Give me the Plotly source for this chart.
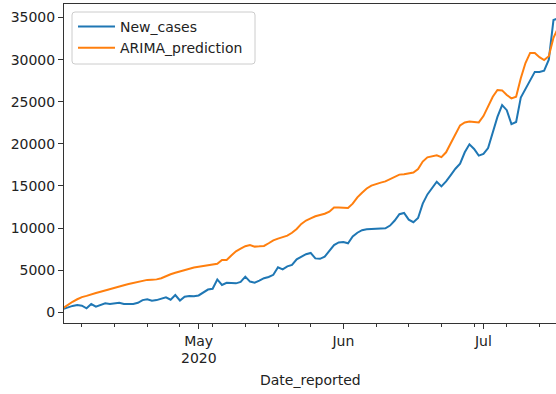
import pandas as pd
import plotly.graph_objects as go

# Daily reported cases and the ARIMA model prediction
dates = pd.date_range("2020-04-02", "2020-07-17", freq="D")

new_cases = [
    400, 600, 760, 860, 780, 480, 980, 680, 850, 1070,
    1000, 1050, 1140, 1000, 980, 1000, 1130, 1450, 1550, 1380,
    1450, 1600, 1780, 1500, 2050, 1400, 1850, 1940, 1900, 2000,
    2350, 2700, 2800, 3900, 3250, 3500, 3480, 3440, 3600, 4230,
    3650, 3520, 3750, 4050, 4200, 4450, 5340, 5100, 5450, 5620,
    6300, 6650, 6900, 7050, 6400, 6350, 6600, 7300, 7990, 8300,
    8350, 8200, 9000, 9450, 9750, 9850, 9880, 9950, 9970, 9970,
    10300, 10900, 11650, 11800, 11000, 10700, 11200, 12900, 14000, 14800,
    15500, 14950, 15550, 16300, 17050, 17650, 19000, 19950, 19400, 18600,
    18800, 19500, 21300, 23200, 24600, 24000, 22350, 22600, 25500, 26500,
    27500, 28550, 28550, 28700, 30000, 34700, 34900,
]

arima_prediction = [
    500, 900, 1250, 1550, 1800, 1950, 2150, 2300, 2450, 2620,
    2780, 2920, 3080, 3220, 3350, 3480, 3620, 3780, 3850, 3880,
    3910, 4050, 4300, 4520, 4700, 4850, 4980, 5200, 5320, 5400,
    5500, 5600, 5680, 5760, 6200, 6220, 6750, 7250, 7550, 7850,
    7980, 7800, 7830, 7880, 8200, 8550, 8750, 8880, 9100, 9450,
    9900, 10500, 10900, 11150, 11400, 11550, 11700, 11950, 12450, 12450,
    12400, 12380, 12900, 13650, 14200, 14700, 15050, 15250, 15400, 15550,
    15850, 16150, 16350, 16400, 16480, 16600, 17000, 17900, 18400, 18560,
    18650, 18420, 19000, 20070, 21200, 22200, 22550, 22650, 22600, 22550,
    23300, 24500, 25600, 26400, 26350, 25800, 25400, 25600, 27800, 29600,
    30800, 30800, 30300, 29950, 30400, 32600, 33800,
]

y_ticks = [0, 5000, 10000, 15000, 20000, 25000, 30000, 35000]
x_tick_dates = ["2020-05-01", "2020-06-01", "2020-07-01"]
x_tick_labels = ["May", "Jun", "Jul"]
year_label = "2020"

BLUE = "#1f77b4"
ORANGE = "#ff7f0e"
AXIS = "#333333"
TEXT = "#222222"
FONT = "DejaVu Sans"

fig = go.Figure()
fig.add_trace(go.Scatter(x=dates, y=new_cases, mode="lines", name="New_cases",
                         line=dict(color=BLUE, width=2)))
fig.add_trace(go.Scatter(x=dates, y=arima_prediction, mode="lines", name="ARIMA_prediction",
                         line=dict(color=ORANGE, width=2)))

W, H = 556, 394
ML, MR, MT, MB = 64, 0, 4, 71
pw, ph = W - ML - MR, H - MT - MB


def px_x(p):
    return (p - ML) / pw


def px_y(p):
    return (H - MB - p) / ph


# rounded legend frame
x0, x1 = px_x(72), px_x(255)
y0, y1 = px_y(64), px_y(12)
rx, ry = 3 / pw, 3 / ph
frame = (f"M {x0+rx},{y1} L {x1-rx},{y1} Q {x1},{y1} {x1},{y1-ry} "
         f"L {x1},{y0+ry} Q {x1},{y0} {x1-rx},{y0} L {x0+rx},{y0} "
         f"Q {x0},{y0} {x0},{y0+ry} L {x0},{y1-ry} Q {x0},{y1} {x0+rx},{y1} Z")

fig.update_layout(
    width=W, height=H,
    margin=dict(l=ML, r=MR, t=MT, b=MB, pad=0),
    paper_bgcolor="white", plot_bgcolor="white",
    font=dict(family=FONT, size=14, color=TEXT),
    showlegend=True,
    legend=dict(x=px_x(73), y=px_y(11), xanchor="left", yanchor="top",
                bgcolor="rgba(0,0,0,0)", borderwidth=0, itemwidth=37,
                font=dict(family=FONT, size=14, color=TEXT)),
    shapes=[dict(type="path", path=frame, xref="paper", yref="paper",
                 line=dict(color="#cccccc", width=1),
                 fillcolor="rgba(255,255,255,0.8)", layer="above")],
    annotations=[
        dict(text="Date_reported", xref="paper", yref="paper",
             x=0.5, y=px_y(380), xanchor="center", yanchor="middle",
             showarrow=False, font=dict(family=FONT, size=14, color=TEXT)),
        dict(text=year_label, xref="x", yref="paper",
             x=x_tick_dates[0], y=px_y(358), xanchor="center", yanchor="middle",
             showarrow=False, font=dict(family=FONT, size=14, color=TEXT)),
    ],
)

fig.update_xaxes(
    range=["2020-04-02 04:00", "2020-07-16 13:00"],
    showgrid=False, zeroline=False,
    showline=True, linecolor=AXIS, linewidth=1, mirror=True,
    tickmode="array", tickvals=x_tick_dates, ticktext=x_tick_labels,
    ticks="outside", ticklen=5, tickwidth=1, tickcolor=AXIS,
    tickfont=dict(family=FONT, size=14, color=TEXT),
    minor=dict(ticks="outside", ticklen=2.5, tickwidth=1, tickcolor=AXIS,
               dtick=7 * 86400000, tick0="2020-04-06", showgrid=False),
)
fig.update_yaxes(
    range=[-1270, 36610],
    showgrid=False, zeroline=False,
    showline=True, linecolor=AXIS, linewidth=1, mirror=False,
    tickmode="array", tickvals=y_ticks, ticktext=[str(v) for v in y_ticks],
    ticks="outside", ticklen=5, tickwidth=1, tickcolor=AXIS,
    tickfont=dict(family=FONT, size=14, color=TEXT),
)

fig.write_html("out.html")
